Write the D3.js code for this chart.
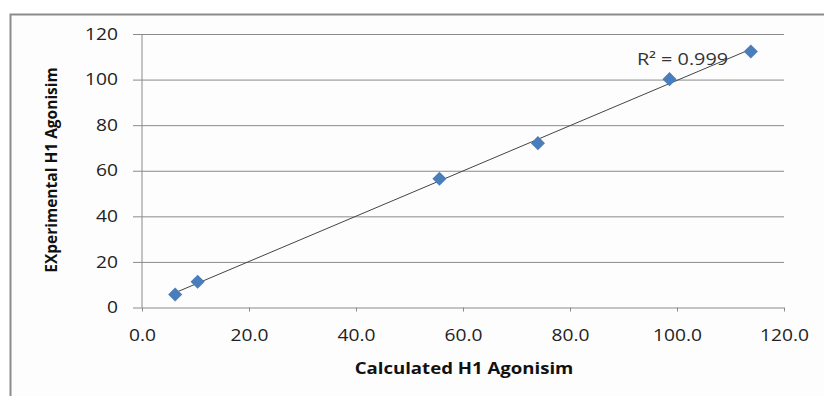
<!DOCTYPE html>
<html>
<head>
<meta charset="utf-8">
<script src="https://cdn.jsdelivr.net/npm/d3@7"></script>
<style>
  body { margin: 0; background: #fff; }
  .axis text { font-family: "Open Sans", sans-serif; font-size: 16px; fill: #222; }
  .axis path { stroke: none; }
  .axis line { stroke: #8a8a8a; }
</style>
</head>
<body>
<div id="canvas"></div>
<script>
// values
var calcX = [6.2, 10.4, 55.6, 74.0, 98.6, 113.8];
var expY  = [5.7, 11.3, 56.5, 72.1, 100.2, 112.3];
var xTicks = [0, 20, 40, 60, 80, 100, 120];
var yTicks = [0, 20, 40, 60, 80, 100, 120];
var r2Label = 'R² = 0.999';

var W = 824, H = 396;
var m = {t:34, r:40, b:88.5, l:142},
    w = 784 - m.l,
    h = 307.5 - m.t;
var stretch = 1.2; // the source text is a bit wider than tall

var svg = d3.select('#canvas')
    .append('svg')
    .attr('width', W)
    .attr('height', H);

// chart area frame (clipped by window at right/bottom)
svg.append('rect')
    .attr('x', 0).attr('y', 0).attr('width', W).attr('height', H)
    .attr('fill', '#fff');
svg.append('rect')
    .attr('x', 10.5).attr('y', 14.5).attr('width', W + 20).attr('height', H + 20)
    .attr('fill', '#fdfdfd')
    .attr('stroke', '#8c8c8c')
    .attr('stroke-width', 2);

var plot = svg.append('g')
    .attr('transform', 'translate(' + m.l + ',' + m.t + ')');

// Scale
var scaleX = d3.scaleLinear().domain([0, 120]).range([0, w]);
var scaleY = d3.scaleLinear().domain([0, 120]).range([h, 0]);

// Axis
var axisY = d3.axisLeft(scaleY)
    .tickValues(yTicks)
    .tickSize(-w)
    .tickPadding(20)
    .tickFormat(d3.format('d'));
var axisX = d3.axisBottom(scaleX)
    .tickValues(xTicks)
    .tickSize(4)
    .tickPadding(18.5)
    .tickFormat(d3.format('.1f'));

var gy = plot.append('g').attr('class', 'axis axis-y').call(axisY);
gy.selectAll('.tick line').attr('x1', -9);
gy.selectAll('.tick text').attr('transform', 'scale(' + stretch + ',1)');

var gx = plot.append('g').attr('class', 'axis axis-x')
    .attr('transform', 'translate(0,' + h + ')')
    .call(axisX);
gx.selectAll('.tick text').attr('transform', 'scale(' + stretch + ',1)');

// y axis line
plot.append('line')
    .attr('x1', 0).attr('x2', 0)
    .attr('y1', 0).attr('y2', h)
    .attr('stroke', '#8a8a8a');

// trendline (least squares)
var mx = d3.mean(calcX), my = d3.mean(expY),
    sxy = d3.sum(calcX, (x, i) => (x - mx) * (expY[i] - my)),
    sxx = d3.sum(calcX, x => (x - mx) * (x - mx)),
    slope = sxy / sxx,
    icpt = my - slope * mx;
var x0 = d3.min(calcX), x1 = d3.max(calcX);
plot.append('line')
    .attr('x1', scaleX(x0)).attr('y1', scaleY(slope * x0 + icpt))
    .attr('x2', scaleX(x1)).attr('y2', scaleY(slope * x1 + icpt))
    .attr('stroke', '#444')
    .attr('stroke-width', 1);

// points
var pts = calcX.map((x, i) => ({x: x, y: expY[i]}));
plot.selectAll('path.pt')
    .data(pts)
    .enter()
    .append('path')
    .attr('class', 'pt')
    .attr('d', d3.symbol().type(d3.symbolSquare).size(100))
    .attr('transform', d => 'translate(' + scaleX(d.x) + ',' + scaleY(d.y) + ') rotate(45)')
    .attr('fill', '#4a7ebb');

// R² label
plot.append('text')
    .attr('transform', 'translate(' + scaleX(92.5) + ',' + scaleY(106.5) + ') scale(' + stretch + ',1)')
    .attr('font-family', '"Open Sans", sans-serif')
    .attr('font-size', 16.5)
    .attr('fill', '#333')
    .text(r2Label);

// axis titles
svg.append('text')
    .attr('transform', 'translate(464,374) scale(' + stretch + ',1)')
    .attr('text-anchor', 'middle')
    .attr('font-family', '"Open Sans", sans-serif')
    .attr('font-weight', 'bold')
    .attr('font-size', 15.5)
    .attr('fill', '#111')
    .text('Calculated H1 Agonisim');

svg.append('text')
    .attr('transform', 'translate(57,170) rotate(-90)')
    .attr('text-anchor', 'middle')
    .attr('font-family', '"Open Sans", sans-serif')
    .attr('font-weight', 'bold')
    .attr('font-size', 15.5)
    .attr('fill', '#111')
    .text('EXperimental H1 Agonisim');
</script>
</body>
</html>
